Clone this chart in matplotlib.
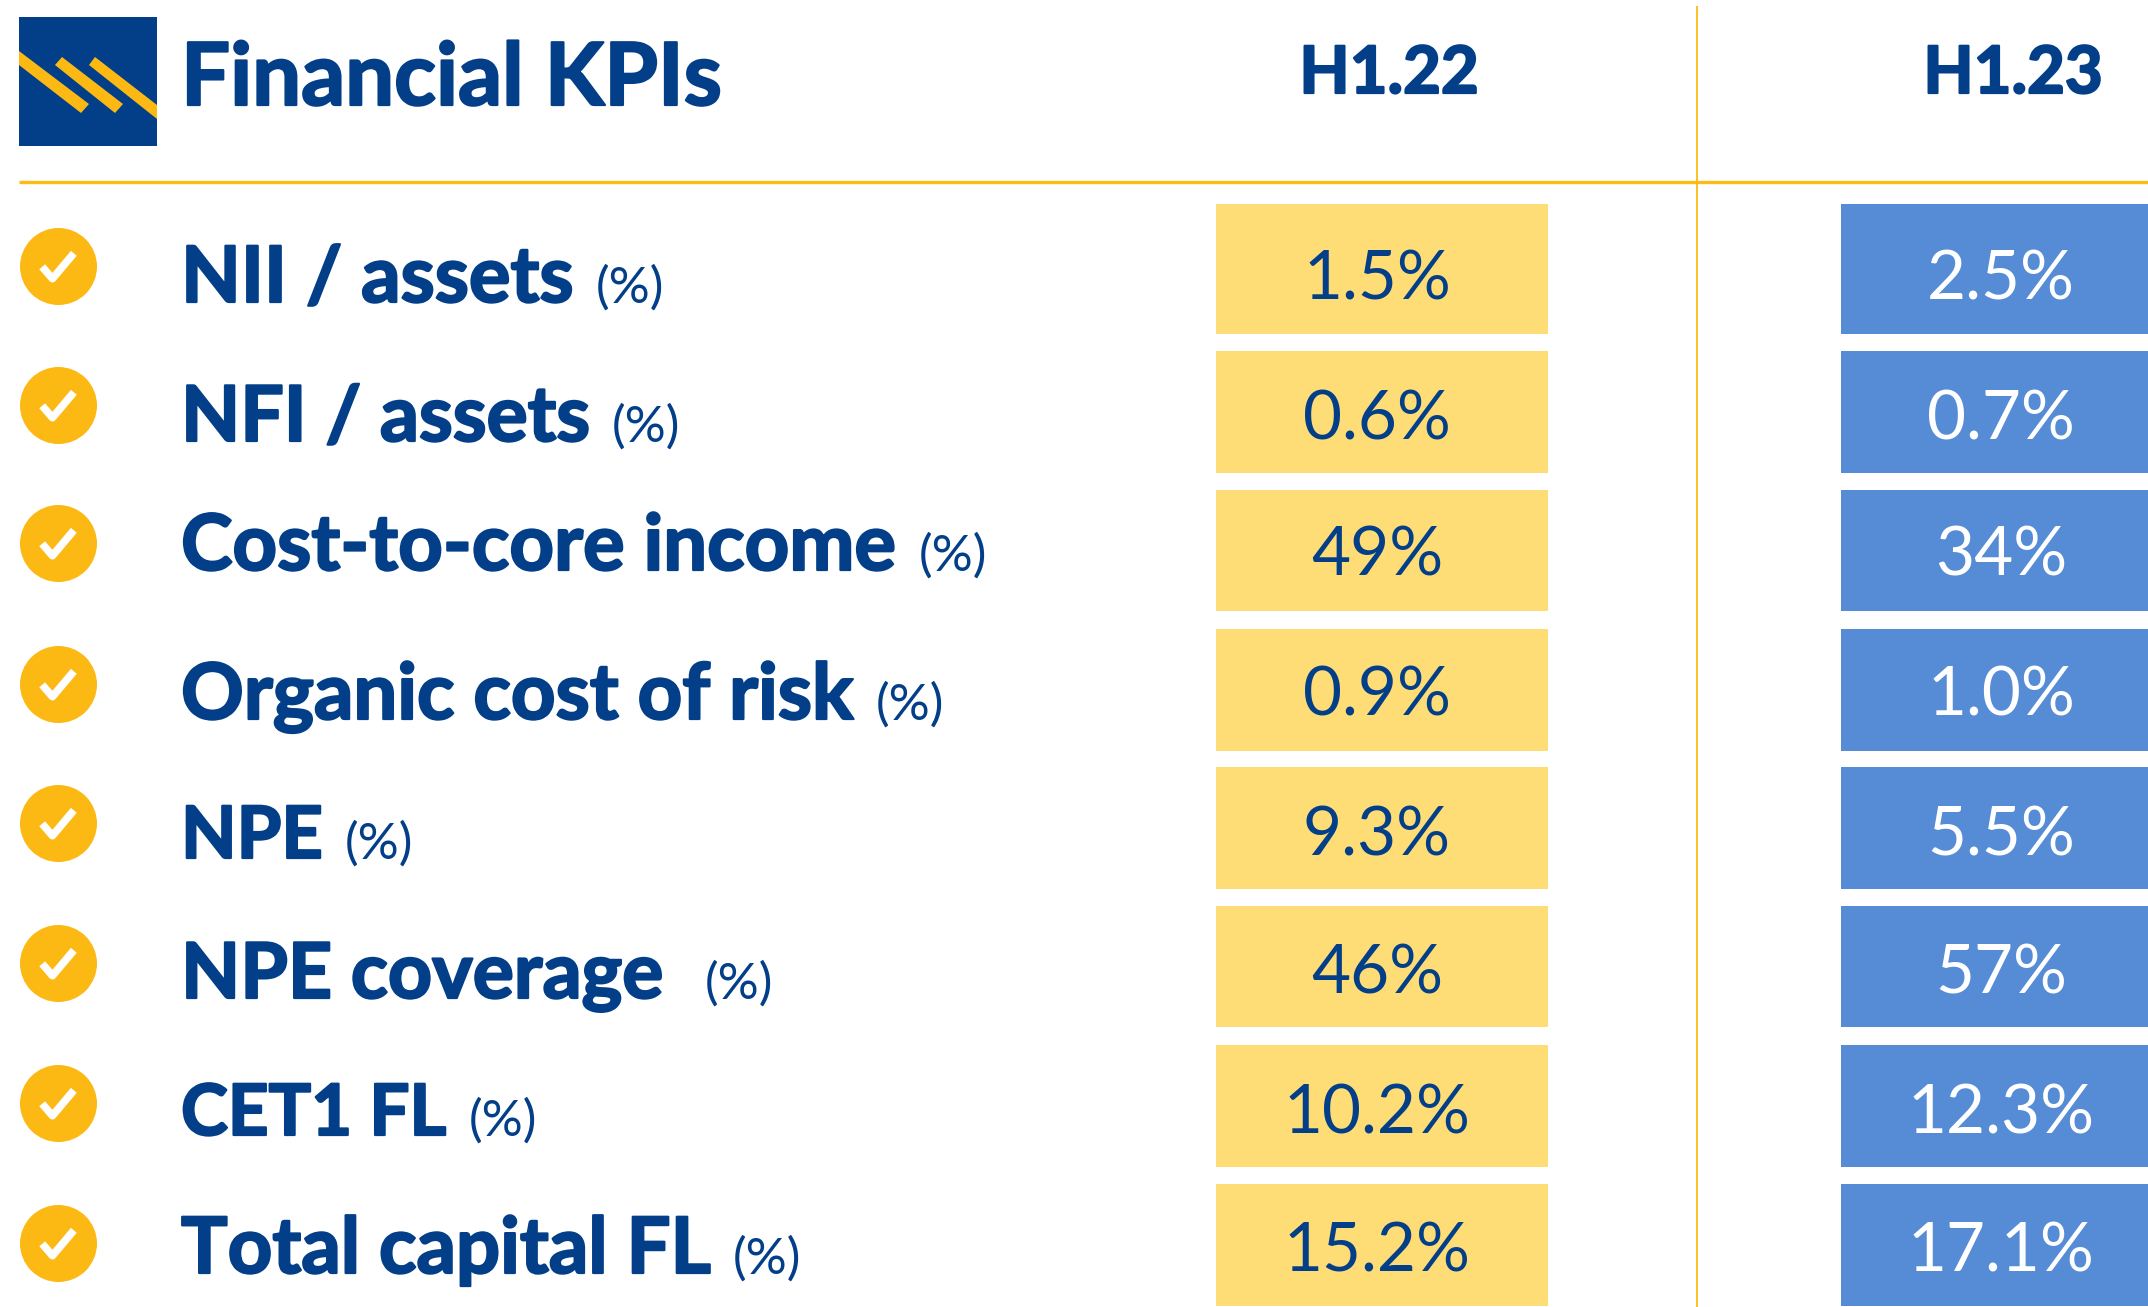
import matplotlib
matplotlib.use("Agg")
import matplotlib.pyplot as plt
import matplotlib.patheffects as pe
from matplotlib.patches import Polygon, Rectangle
from matplotlib.path import Path

plt.rcParams['font.family'] = ['Lato', 'DejaVu Sans']

# ---- data ----
title = "Financial KPIs"
periods = ["H1.22", "H1.23"]
kpis = ["NII / assets", "NFI / assets", "Cost-to-core income", "Organic cost of risk",
        "NPE", "NPE coverage", "CET1 FL", "Total capital FL"]
unit = "(%)"
h122 = ["1.5%", "0.6%", "49%", "0.9%", "9.3%", "46%", "10.2%", "15.2%"]
h123 = ["2.5%", "0.7%", "34%", "1.0%", "5.5%", "57%", "12.3%", "17.1%"]

# ---- layout (pixels) ----
W, H = 2148, 1307
row_top = [204, 351, 490, 629, 767, 906, 1045, 1184]
row_bot = [334, 473, 611, 751, 889, 1027, 1167, 1306]
circle_y = [266, 405, 543, 684, 823, 963, 1103, 1243]
label_base = [302, 441, 570, 719, 858, 998, 1135, 1273]
label_pt = [56, 55.4, 56, 56, 52, 55.4, 51, 56]
unit_gap = [22, 22, 22, 22, 22, 42, 22, 22]
value_base = [300, 439, 575, 716, 855, 994, 1133, 1272]
NAVY, GOLD, YEL, BLUE = "#033F88", "#FDB913", "#FEDC76", "#558CD5"
UNIT_PT, VALUE_PT, HEAD_PT, TITLE_PT = 37, 48.5, 47, 62.5
bolder = [pe.withStroke(linewidth=1.6, foreground=NAVY)]

fig = plt.figure(figsize=(W / 100, H / 100), dpi=100, facecolor="white")
ax = fig.add_axes([0, 0, 1, 1])
ax.set_xlim(0, W)
ax.set_ylim(H, 0)
ax.axis("off")

# logo
ax.add_patch(Rectangle((19, 17), 138, 129, color=NAVY, lw=0))
for pts in ([(19, 51), (89, 104), (81, 113), (19, 65)],
            [(62, 57), (123, 104), (115, 113), (55, 65)],
            [(95, 57), (157, 105), (157, 119), (89, 65)]):
    ax.add_patch(Polygon(pts, closed=True, color=GOLD, lw=0))

# rules
ax.plot([19, W], [182, 182], color="#FDBB13", lw=2.4, solid_capstyle="butt")
ax.plot([1697, 1697], [6, H], color="#FDBB13", lw=1.3, solid_capstyle="butt")

# title and headers
ax.text(181, 105, title, color=NAVY, fontsize=TITLE_PT, fontweight="bold", va="baseline",
        path_effects=bolder)
for x, p in zip([1389, 2013], periods):
    ax.text(x, 93, p, color=NAVY, fontsize=HEAD_PT, fontweight="bold", ha="center", va="baseline",
            path_effects=bolder)

# value cells
hts = [b - t for t, b in zip(row_top, row_bot)]
ax.barh(row_top, [332] * 8, height=hts, left=1216, align="edge", color=YEL, lw=0)
ax.barh(row_top, [W - 1841] * 8, height=hts, left=1841, align="edge", color=BLUE, lw=0)
for yb, a, b in zip(value_base, h122, h123):
    ax.text(1377, yb, a, color=NAVY, fontsize=VALUE_PT, ha="center", va="baseline")
    ax.text(2001, yb, b, color="white", fontsize=VALUE_PT, ha="center", va="baseline")

# check badges
ax.scatter([58] * 8, circle_y, s=(77 * 0.72) ** 2, color=GOLD, lw=0, zorder=3)
check = Path([(-1.0, -0.05), (-0.35, -0.8), (1.0, 0.8)], [Path.MOVETO, Path.LINETO, Path.LINETO])
ax.scatter([58] * 8, circle_y, marker=check, s=520, facecolors="none", edgecolors="white",
           linewidths=5.5, zorder=4)

# labels
fig.canvas.draw()
r = fig.canvas.get_renderer()
for name, yb, gap, pt in zip(kpis, label_base, unit_gap, label_pt):
    t = ax.text(181, yb, name, color=NAVY, fontsize=pt, fontweight="bold", va="baseline",
                path_effects=bolder)
    x1 = t.get_window_extent(r).x1
    ax.text(x1 + gap, yb + 1, unit, color=NAVY, fontsize=UNIT_PT, va="baseline")

fig.savefig("out.png", dpi=100)
